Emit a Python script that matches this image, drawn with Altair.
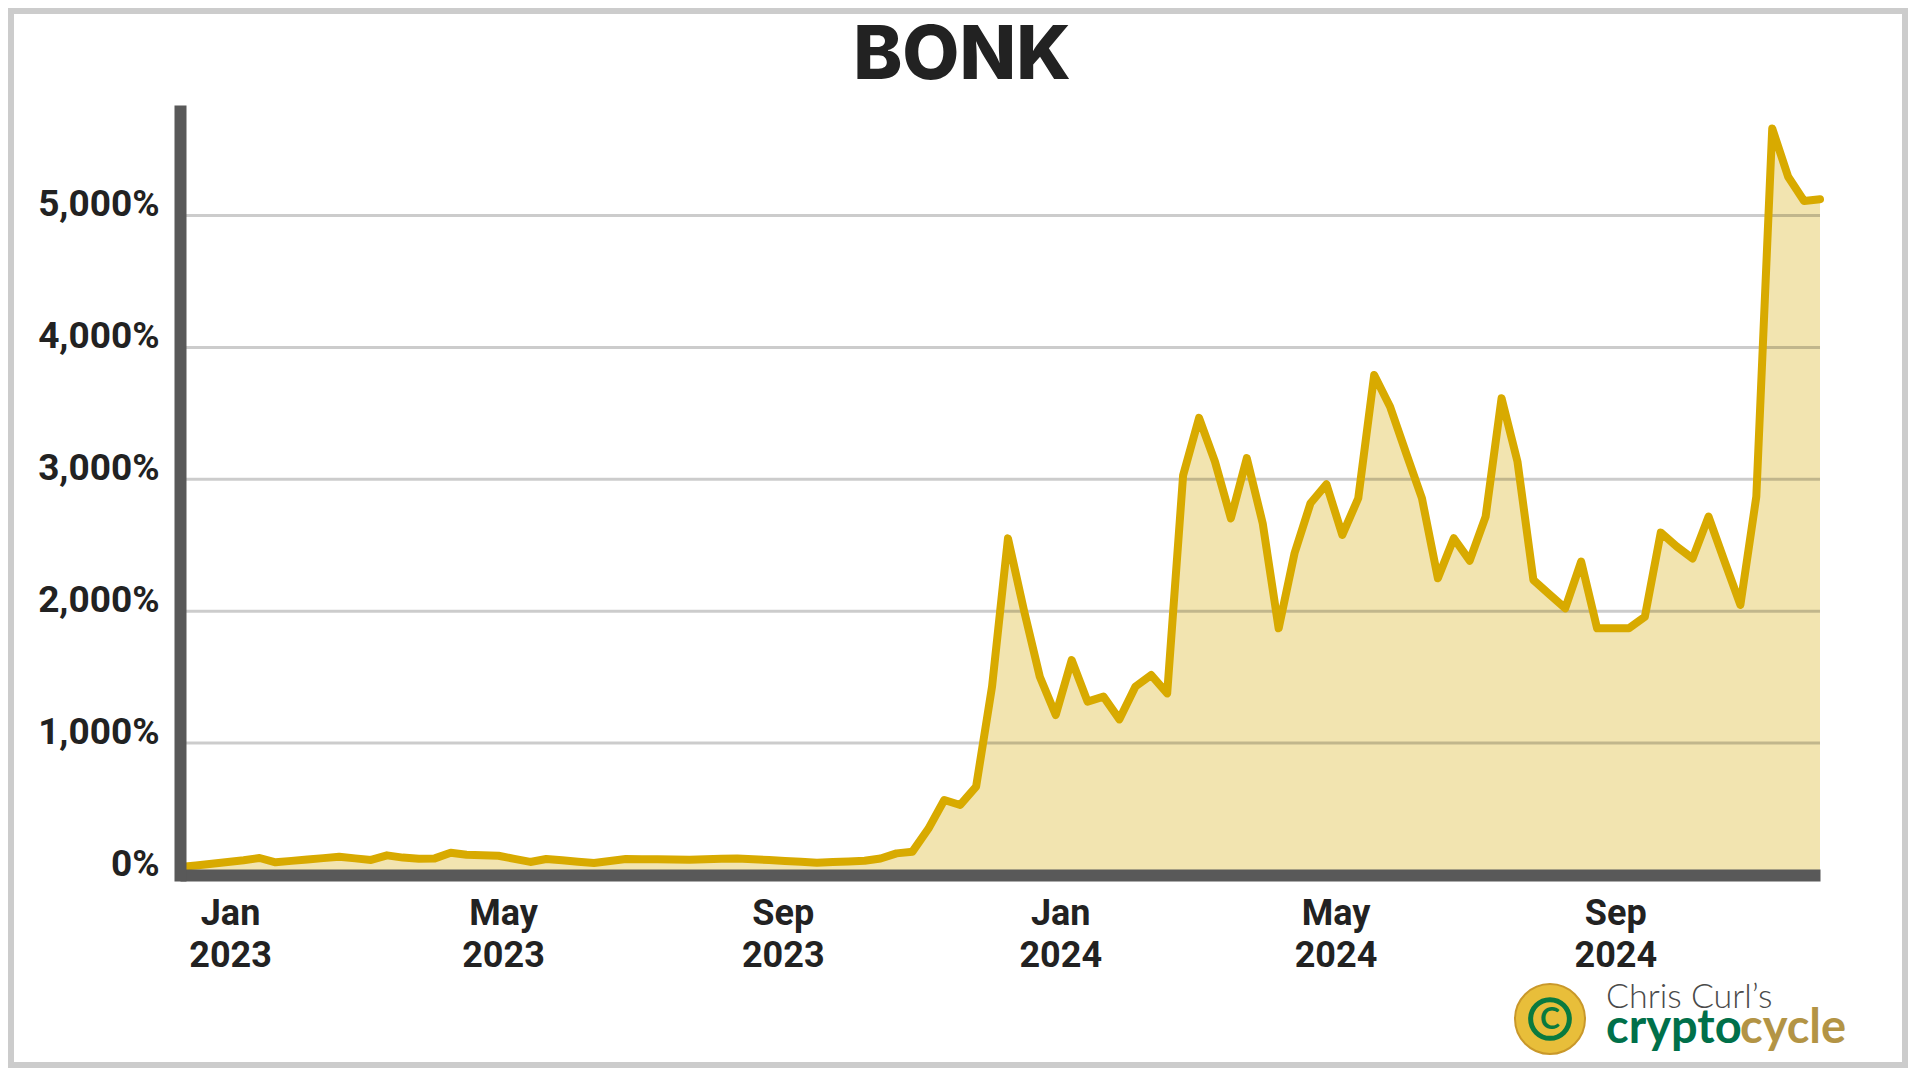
import altair as alt
import pandas as pd

# ---- data (weekly, % return) ----
start_date = "2022-12-10"
n_weeks = 104
returns_pct = [
    60, 72, 85, 98, 112, 129, 96, 107, 118, 128,
    139, 126, 114, 149, 132, 124, 126, 169, 154, 150,
    146, 122, 99, 121, 111, 101, 91, 106, 121, 120,
    119, 117, 116, 119, 123, 126, 120, 113, 106, 100,
    93, 98, 103, 108, 125, 164, 177, 350, 569, 531,
    670, 1428, 2552, 2009, 1503, 1213, 1630, 1314, 1352, 1180,
    1428, 1516, 1377, 3030, 3465, 3134, 2704, 3160, 2666, 1870,
    2440, 2818, 2962, 2578, 2856, 3790, 3550, 3200, 2856, 2250,
    2553, 2383, 2717, 3614, 3134, 2237, 2128, 2022, 2376, 1870,
    1870, 1870, 1958, 2596, 2490, 2400, 2717, 2380, 2047, 2868,
    5660, 5294, 5110, 5123,
]
dates = pd.date_range(start_date, periods=n_weeks, freq="7D").strftime("%Y-%m-%d").tolist()
y_ticks = [0, 1000, 2000, 3000, 4000, 5000]
grid_values = [1000, 2000, 3000, 4000, 5000]
x_tick_dates = [(2023, 1), (2023, 5), (2023, 9), (2024, 1), (2024, 5), (2024, 9)]
title_text = "BONK"

df = pd.DataFrame({"date": dates, "value": returns_pct})
grid_df = pd.DataFrame({"value": grid_values})

W, H = 1640, 764
PAD = {"left": 172, "top": 103, "right": 88, "bottom": 193}

LINE = "#D8AA00"
FILL = "#F2E4B0"
AXIS = "#595959"
TXT = "#222222"
LFONT = "Roboto"

x_enc = alt.X(
    "date:T",
    scale=alt.Scale(type="utc", nice=False),
    axis=alt.Axis(
        title=None,
        values=[alt.DateTime(year=y, month=m, date=1, utc=True) for y, m in x_tick_dates],
        labelExpr="[utcFormat(datum.value, '%b'), utcFormat(datum.value, '%Y')]",
        labelFont=LFONT, labelFontSize=36, labelFontWeight="bold", labelColor=TXT,
        labelLineHeight=42, labelBaseline="alphabetic", labelAlign="center",
        labelPadding=49, ticks=False, tickSize=0, grid=False,
        domainColor=AXIS, domainWidth=12, domainCap="butt",
        labelOverlap=False, labelFlush=False, labelBound=False, zindex=1,
    ),
)
y_enc = alt.Y(
    "value:Q",
    scale=alt.Scale(domain=[0, 5792], nice=False, zero=True),
    axis=alt.Axis(
        title=None, values=y_ticks,
        labelExpr="format(datum.value, ',') + '%'",
        labelFont=LFONT, labelFontSize=37, labelFontWeight="bold", labelColor=TXT,
        labelBaseline="alphabetic", labelAlign="right", labelPadding=21,
        ticks=False, tickSize=0, grid=False,
        domainColor=AXIS, domainWidth=12, domainCap="square",
        labelOverlap=False, labelFlush=False, labelBound=False, zindex=1,
    ),
)

base = alt.Chart(df)
area = base.mark_area(color=FILL).encode(x=x_enc, y=y_enc)
grid = alt.Chart(grid_df).mark_rule(color="black", opacity=0.2, strokeWidth=3).encode(y="value:Q")
line = base.mark_line(color=LINE, strokeWidth=8, strokeCap="round", strokeJoin="round").encode(
    x="date:T", y="value:Q"
)

def label(text, px, py, **kw):
    return alt.Chart(pd.DataFrame({"t": [text]})).mark_text(**kw).encode(
        text="t:N", x=alt.value(px), y=alt.value(py)
    )

title = label(title_text, 782, -32, font="Inter", fontSize=74, fontWeight=800,
              color=TXT, align="center", baseline="alphabetic")

logo_top = label("Chris Curl\u2019s", 1426, 897, font="Lato", fontSize=34, fontWeight=300,
                 color="#4a4a4a", align="left", baseline="alphabetic")
logo_a = label("crypto", 1426, 932, font="Lato", fontSize=47, fontWeight="bold",
               color="#00704A", align="left", baseline="alphabetic")
logo_b = label("cycle", 1560, 932, font="Lato", fontSize=47, fontWeight="bold",
               color="#B39445", align="left", baseline="alphabetic")

coin_df = pd.DataFrame({"k": ["coin"]})
coin = alt.Chart(coin_df).mark_point(
    shape="circle", filled=True, size=4900, fill="#E8BE3A", stroke="#C9982A", strokeWidth=2, opacity=1
).encode(x=alt.value(1370), y=alt.value(908))
coin_ring = alt.Chart(coin_df).mark_point(
    shape="circle", filled=False, size=1500, stroke="#0A7A3F", strokeWidth=5, opacity=1
).encode(x=alt.value(1370), y=alt.value(908))
coin_c = label("C", 1370, 909, font="Lato", fontSize=30, fontWeight="bold",
               color="#0A7A3F", align="center", baseline="middle")

frame = alt.Chart(coin_df).mark_rect(fill=None, stroke="#cccccc", strokeWidth=6).encode(
    x=alt.value(-PAD["left"] + 3), x2=alt.value(W + PAD["right"] - 3),
    y=alt.value(-PAD["top"] + 3), y2=alt.value(H + PAD["bottom"] - 3),
)

chart = alt.layer(
    area, grid, line, title, logo_top, logo_a, logo_b, coin, coin_ring, coin_c, frame
).properties(
    width=W, height=H,
    autosize=alt.AutoSizeParams(type="none"),
    padding=PAD,
    background="white",
).configure_view(stroke=None)

chart.save("out.html", embed_options={"renderer": "svg", "actions": False})
